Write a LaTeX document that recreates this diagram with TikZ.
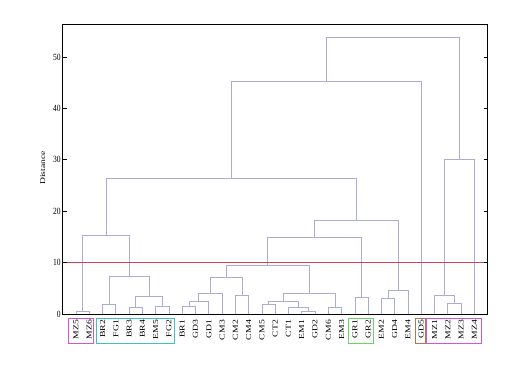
\documentclass[tikz,border=0pt]{standalone}
\usepackage{fontspec}
\setmainfont{Liberation Serif}
\definecolor{dendc}{RGB}{172,172,208}
\definecolor{cutc}{RGB}{208,66,78}
\definecolor{magc}{RGB}{212,84,212}
\definecolor{cyac}{RGB}{64,192,192}
\definecolor{grnc}{RGB}{104,212,104}
\definecolor{brnc}{RGB}{170,122,84}
\newcommand\dlink[4]{\coordinate (#1) at (#2); \draw[dend] (#3) |- (#1) -| (#4);}
\begin{document}
\begin{tikzpicture}[x=1bp,y=1bp,
  dend/.style={draw=dendc,line width=0.7bp},
  lab/.style={rotate=90,anchor=east,inner sep=0pt,font=\fontsize{7.6}{8}\selectfont},
  ticklab/.style={anchor=east,inner sep=0pt,font=\fontsize{7.6}{8}\selectfont},
  grpbox/.style={line width=1bp}]
\useasboundingbox (0,0) rectangle (514,369);
\node[rotate=90,inner sep=0pt,font=\fontsize{7.4}{8}\selectfont] (ylab) at (42.7,201) {\scalebox{1.3}[1]{Distance}};
\begin{scope}[shift={(62.7,55)},x=13.28bp,y=5.14bp]
  \foreach \n [count=\i] in {MZ5,MZ6,BR2,FG1,BR3,BR4,EM5,FG2,BR1,GD3,GD1,CM3,CM2,CM4,CM5,CT2,CT1,EM1,GD2,CM6,EM3,GR1,GR2,EM2,GD4,EM4,GD5,MZ1,MZ2,MZ3,MZ4}{
    \coordinate (L\i) at (\i,0);
    \node[lab] (\n) at (\i,-1.15) {\scalebox{1.28}[1]{\n}};
  }
  \dlink{c1}{1.5,0.6}{L1}{L2}
  \dlink{c2}{3.5,1.9}{L3}{L4}
  \dlink{c3}{5.5,1.2}{L5}{L6}
  \dlink{c4}{7.5,1.5}{L7}{L8}
  \dlink{c5}{6.5,3.4}{c3}{c4}
  \dlink{c6}{5,7.3}{c2}{c5}
  \dlink{c7}{3.25,15.3}{c1}{c6}
  \dlink{c8}{9.5,1.5}{L9}{L10}
  \dlink{c9}{10.25,2.4}{c8}{L11}
  \dlink{c10}{11.125,4.1}{c9}{L12}
  \dlink{c11}{13.5,3.6}{L13}{L14}
  \dlink{c12}{12.3125,7.1}{c10}{c11}
  \dlink{c13}{15.5,1.9}{L15}{L16}
  \dlink{c14}{18.5,0.6}{L18}{L19}
  \dlink{c15}{17.75,1.2}{L17}{c14}
  \dlink{c16}{16.625,2.4}{c13}{c15}
  \dlink{c17}{20.5,1.2}{L20}{L21}
  \dlink{c18}{18.5625,4.1}{c16}{c17}
  \dlink{c19}{15.4375,9.5}{c12}{c18}
  \dlink{c20}{22.5,3.2}{L22}{L23}
  \dlink{c21}{18.96875,15.0}{c19}{c20}
  \dlink{c22}{24.5,3.0}{L24}{L25}
  \dlink{c23}{25.25,4.6}{c22}{L26}
  \dlink{c24}{22.109375,18.2}{c21}{c23}
  \dlink{c25}{12.68,26.4}{c7}{c24}
  \dlink{c26}{19.84,45.3}{c25}{L27}
  \dlink{c27}{29.5,2.1}{L29}{L30}
  \dlink{c28}{28.75,3.6}{L28}{c27}
  \dlink{c29}{29.875,30.0}{c28}{L31}
  \dlink{c30}{24.86,53.8}{c26}{c29}
  % cut-off line
  \coordinate (cutL) at (0,10);
  \coordinate (cutR) at (32,10);
  \draw[cutc,line width=1.4bp] (cutL) -- (cutR);
  % axes
  \draw[black,line width=0.9bp] (0,0) rectangle (32,56.4);
  \foreach \v in {0,10,20,30,40,50}{
    \draw[black,line width=0.7bp] (0,\v) -- ++(0.3,0);
    \draw[black,line width=0.7bp] (32,\v) -- ++(-0.3,0);
    \node[ticklab] (t\v) at ([xshift=-1.8bp]0,\v) {\scalebox{1}[1.25]{\v}};
  }
  % group boxes
  \draw[grpbox,draw=magc] (0.47,-0.84) rectangle (2.30,-5.7);
  \draw[grpbox,draw=cyac] (2.53,-0.84) rectangle (8.40,-5.7);
  \draw[grpbox,draw=grnc] (21.5,-0.84) rectangle (23.39,-5.7);
  \draw[grpbox,draw=brnc] (26.6,-0.84) rectangle (27.33,-5.7);
  \draw[grpbox,draw=magc] (27.43,-0.84) rectangle (31.55,-5.7);
\end{scope}
\end{tikzpicture}
\end{document}
